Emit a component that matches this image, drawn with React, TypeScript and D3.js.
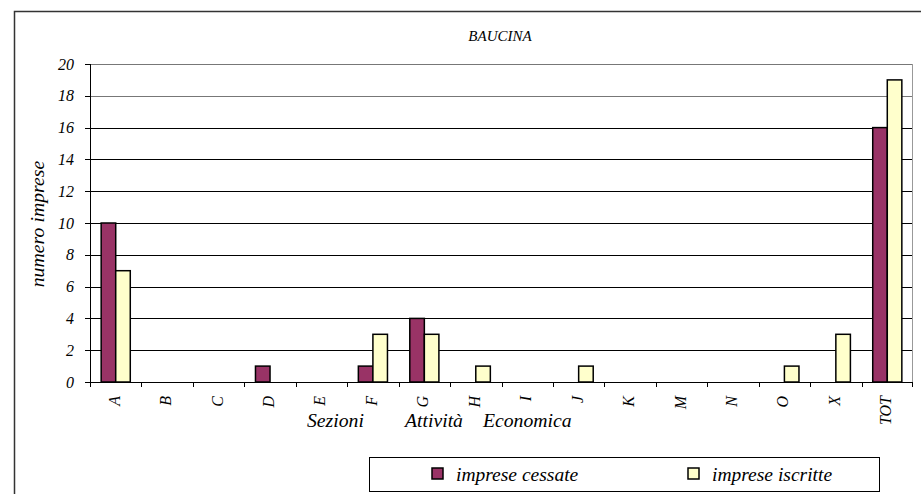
import React from "react";
import * as d3 from "d3";

const categories = ["A", "B", "C", "D", "E", "F", "G", "H", "I", "J", "K", "M", "N", "O", "X", "TOT"];
const cessate = [10, 0, 0, 1, 0, 1, 4, 0, 0, 0, 0, 0, 0, 0, 0, 16];
const iscritte = [7, 0, 0, 0, 0, 3, 3, 1, 0, 1, 0, 0, 0, 1, 3, 19];
const yTicks = [0, 2, 4, 6, 8, 10, 12, 14, 16, 18, 20];
const seriesNames = ["imprese cessate", "imprese iscritte"];
const xTitleWords = ["Sezioni", "Attività", "Economica"];
const colors = ["#993366", "#FFFFCC"];

const W = 921, H = 494;
const plot = { left: 90, right: 913, top: 64, bottom: 382 };
const font = "Liberation Serif";
const ts = { fontFamily: font, fontStyle: "italic" as const };

export default function App() {
  const x = d3.scaleBand<string>().domain(categories).range([plot.left, plot.right]).paddingInner(0).paddingOuter(0);
  const y = d3.scaleLinear().domain([0, 20]).range([plot.bottom, plot.top]);
  const bw = x.bandwidth();
  const barW = bw * 0.283;
  const series = [cessate, iscritte];

  return (
    <svg width={W} height={H} style={{ position: "absolute", left: 0, top: 0, background: "#fff", fontFamily: font }}>
      <rect x={14.5} y={11.5} width={W} height={H} fill="#fff" stroke="#333" strokeWidth={1.5} />
      <text x={500} y={41} textAnchor="middle" fontSize={15} style={ts}>BAUCINA</text>

      {/* gridlines */}
      {yTicks.map((t) => (
        <line key={t} x1={plot.left} x2={plot.right} y1={Math.round(y(t)) + 0.5} y2={Math.round(y(t)) + 0.5}
          stroke={t >= 18 ? "#777" : "#000"} strokeWidth={1} />
      ))}
      <line x1={plot.right - 0.5} x2={plot.right - 0.5} y1={plot.top} y2={plot.bottom} stroke="#999" />

      {/* bars */}
      {series.map((s, si) =>
        s.map((v, i) =>
          v > 0 ? (
            <rect key={`${si}-${i}`}
              x={(x(categories[i]) as number) + bw / 2 - barW + si * barW}
              y={y(v)} width={barW} height={y(0) - y(v)}
              fill={colors[si]} stroke="#000" strokeWidth={1.5} />
          ) : null
        )
      )}

      {/* y axis */}
      <line x1={plot.left + 0.5} x2={plot.left + 0.5} y1={plot.top} y2={plot.bottom + 5} stroke="#000" />
      {yTicks.map((t) => (
        <g key={t}>
          <line x1={plot.left - 5} x2={plot.left} y1={Math.round(y(t)) + 0.5} y2={Math.round(y(t)) + 0.5} stroke="#000" />
          <text x={74} y={y(t) + 5.5} textAnchor="end" fontSize={16} style={ts}>{t}</text>
        </g>
      ))}
      <text transform={`translate(44,224) rotate(-90)`} textAnchor="middle" fontSize={19.8} style={ts}>numero imprese</text>

      {/* x axis */}
      <line x1={plot.left} x2={plot.right} y1={plot.bottom + 0.5} y2={plot.bottom + 0.5} stroke="#000" />
      {categories.map((c) => (
        <line key={"t" + c} x1={Math.round(x(c) as number) + 0.5} x2={Math.round(x(c) as number) + 0.5}
          y1={plot.bottom} y2={plot.bottom + 5} stroke="#000" />
      ))}
      <line x1={plot.right - 0.5} x2={plot.right - 0.5} y1={plot.bottom} y2={plot.bottom + 5} stroke="#000" />
      {categories.map((c) => (
        <text key={"l" + c} transform={`translate(${(x(c) as number) + bw / 2 + 4},396) rotate(-90)`}
          textAnchor="end" fontSize={16} style={ts}>{c}</text>
      ))}
      <text y={427} fontSize={19.7} style={ts}>
        {xTitleWords.map((w, i) => (
          <tspan key={w} x={[307, 405, 483][i]}>{w}</tspan>
        ))}
      </text>

      {/* legend */}
      <rect x={369.5} y={457.5} width={510} height={34} fill="#fff" stroke="#000" />
      {seriesNames.map((n, i) => (
        <g key={n}>
          <rect x={[432, 688][i]} y={468} width={11} height={11} fill={colors[i]} stroke="#000" strokeWidth={1.5} />
          <text x={[456, 712][i]} y={481} fontSize={19.5} style={ts}>{n}</text>
        </g>
      ))}
    </svg>
  );
}
